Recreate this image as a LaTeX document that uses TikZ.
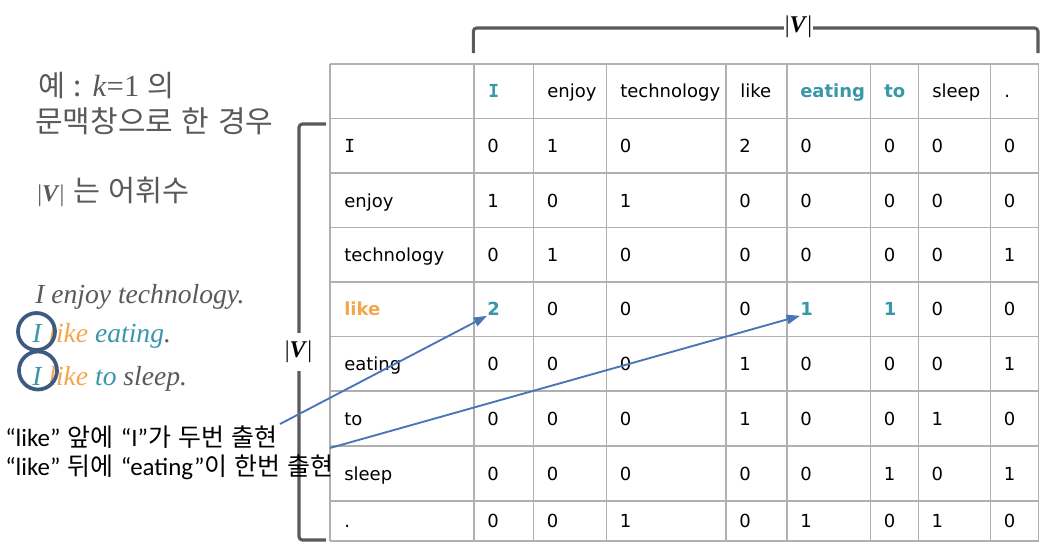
\documentclass[tikz,border=0pt]{standalone}
\usepackage{fontspec}
\setmainfont{DejaVu Sans}
\newfontfamily\kr{Noto Sans CJK KR}[WordSpace=1.0]
\newfontfamily\krw{Noto Sans CJK KR}[WordSpace=2.3]
\newfontfamily\krm{Noto Sans CJK KR}[WordSpace=1.3]
\newfontfamily\tnr{Liberation Serif}
\newfontfamily\calfont{Carlito}
\newfontfamily\monoI{DejaVu Sans Mono}
\usetikzlibrary{arrows.meta}
\definecolor{teal2}{HTML}{3A97A9}
\definecolor{orng}{HTML}{F5A54A}
\definecolor{txtgray}{HTML}{595959}
\definecolor{gridgray}{HTML}{B0B0B0}
\definecolor{brk}{HTML}{5A5A5A}
\definecolor{arrblue}{HTML}{4A74B8}
\definecolor{circ}{HTML}{3D5A80}
\newcommand\hlt[1]{\textcolor{teal2}{\bfseries #1}}
\newcommand\absV{{\tnr|\textbf{\textit{V}}|}}
\newcommand\datarow[3]{%
  \foreach \v [count=\ci] in {#3} {
    \pgfmathsetmacro\xx{{474,533.5,606.5,726,787,870.7,918.3,990.7}[\ci-1]+13}
    \node[cellt] (r#1c\ci) at (\xx,#2) {\v};
  }}
\begin{document}
\begin{tikzpicture}[x=0.75pt,y=-0.75pt,
  cellt/.style={anchor=west, inner sep=0pt, text height=9.8pt, text depth=0pt, font=\fontsize{13.5}{16}\selectfont},
  gridln/.style={draw=gridgray, line width=1.1pt},
  brack/.style={draw=brk, line width=2.3pt, rounded corners=2.5pt},
  vlabel/.style={fill=white, inner sep=1pt, font=\fontsize{18}{20}\selectfont},
  sent/.style={anchor=base west, inner sep=0pt, text=txtgray, font=\tnr\itshape\fontsize{20.7}{24}\selectfont},
  kortxt/.style={anchor=west, inner sep=0pt, text=txtgray, font=\krw\fontsize{22.5}{26}\selectfont},
  ann/.style={anchor=west, inner sep=0pt, text=black, font=\kr\fontsize{18.7}{22}\selectfont},
  ring/.style={circle, draw=circ, line width=2.8pt, inner sep=0pt},
  arr/.style={draw=arrblue, line width=1.4pt, -{Triangle[length=10pt,width=7pt]}}
]
\useasboundingbox (0,0) rectangle (1058,558);

% grid
\foreach \y in {64,118.5,173,227.5,282,336.5,391,446,501,541}
  \draw[gridln] (330,\y) -- (1038.7,\y);
\foreach \x in {330,474,533.5,606.5,726,787,870.7,918.3,990.7,1038.7}
  \draw[gridln] (\x,64) -- (\x,541);

% header
\node[cellt] (hI)  at (488,91) {\hlt{\monoI I}};
\node[cellt] (hen) at (547,91) {enjoy};
\node[cellt] (hte) at (620,91) {technology};
\node[cellt] (hli) at (740,91) {like};
\node[cellt] (hea) at (800,91) {\hlt{eating}};
\node[cellt] (hto) at (884,91) {\hlt{to}};
\node[cellt] (hsl) at (932,91) {sleep};
\node[cellt] (hdt) at (1004,91) {.};

% row labels
\node[cellt] (lI)  at (344,146) {{\monoI I}};
\node[cellt] (len) at (344,200.5) {enjoy};
\node[cellt] (lte) at (344,255) {technology};
\node[cellt] (lli) at (344,309) {\textcolor{orng}{\bfseries like}};
\node[cellt] (lea) at (344,364) {eating};
\node[cellt] (lto) at (344,418.5) {to};
\node[cellt] (lsl) at (344,473.5) {sleep};
\node[cellt] (ldt) at (344,521) {.};

% data
\datarow{1}{146}{0,1,0,2,0,0,0,0}
\datarow{2}{200.5}{1,0,1,0,0,0,0,0}
\datarow{3}{255}{0,1,0,0,0,0,0,1}
\datarow{4}{309}{{\hlt{2}},0,0,0,{\hlt{1}},{\hlt{1}},0,0}
\datarow{5}{364}{0,0,0,1,0,0,0,1}
\datarow{6}{418.5}{0,0,0,1,0,0,1,0}
\datarow{7}{473.5}{0,0,0,0,0,1,0,1}
\datarow{8}{521}{0,0,1,0,1,0,1,0}

% brackets
\draw[brack] (473.3,53) -- (473.3,28) -- (1038,28) -- (1038,53);
\node[vlabel] (topV) at (798.5,27) {\absV};
\draw[brack] (326,124) -- (299,124) -- (299,540) -- (326,540);
\node[vlabel, minimum height=28pt] (leftV) at (298.5,352) {\absV};

% left texts
\node[kortxt, font=\krm\fontsize{22}{26}\selectfont] (k1) at (38,86) {예 : {\tnr\fontsize{23}{26}\selectfont\textit{k}=1} 의};
\node[kortxt] (k2) at (35,121) {문맥창으로 한 경우};
\node[kortxt, font=\krm\fontsize{22}{26}\selectfont] (k3) at (37,192) {{\tnr\fontsize{18}{20}\selectfont|\textbf{\textit{V}}|} 는 어휘수};

% sentences
\node[sent] (s1) at (35,303) {I enjoy technology.};
\node[sent] (s2) at (32,342) {{\color{teal2}I} {\color{orng}like} {\color{teal2}eating}.};
\node[sent] (s3) at (32,385) {{\color{teal2}I} {\color{orng}like} {\color{teal2}to} sleep.};
\node[ring, minimum size=37pt*0.75] (o1) at (36.5,331.5) {};
\node[ring, minimum size=38pt*0.75] (o2) at (38,370.5) {};

% annotation
\node[ann] (n1) at (5,437) {{\calfont “like”} 앞에 {\calfont “I”}가 두번 출현};
\node[ann] (n2) at (5,467) {{\calfont “like”} 뒤에 {\calfont “eating”}이 한번 출현};

\coordinate (st1) at (280,424);
\coordinate (st2) at (330,448);
\draw[arr] (st1) -- (r4c1.south west);
\draw[arr] (st2) -- (r4c5.south west);
\end{tikzpicture}
\end{document}
